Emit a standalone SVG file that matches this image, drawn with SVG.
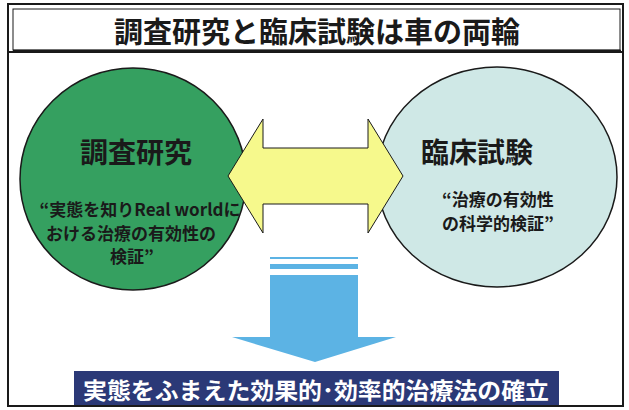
<svg xmlns="http://www.w3.org/2000/svg" width="629" height="410" viewBox="0 0 629 410">
<style>
.frame{fill:none;stroke:#1a1a1a}
.jp{font-family:"Noto Sans CJK JP","Noto Sans",sans-serif;font-weight:700}
.ttl{font-size:29px;fill:#1a1a1a}
.head{font-size:28px;fill:#1a1a1a}
.sub{font-size:17px;fill:#1a1a1a}
.res{font-size:23px;fill:#ffffff}
</style>
<rect width="629" height="410" fill="#ffffff"/>
<g id="frame">
<rect class="frame" x="8" y="4" width="615" height="402" stroke-width="2"/>
</g>
<g id="title">
<rect class="frame" x="8" y="4" width="615" height="48" stroke-width="2"/>
<rect class="frame" x="13" y="9" width="607" height="41" stroke-width="1"/>
<line x1="13" y1="51" x2="621" y2="51" stroke="#1a1a1a" stroke-width="2.5"/>
<text class="jp ttl" x="317" y="43" text-anchor="middle">調査研究と臨床試験は車の両輪</text>
</g>
<g id="survey">
<ellipse cx="133" cy="179" rx="113" ry="111" fill="#35a060" stroke="#1a1a1a" stroke-width="1.5"/>
<text class="jp head" x="136" y="163" text-anchor="middle">調査研究</text>
<text class="jp sub" x="140" y="216" text-anchor="middle">“実態を知りReal worldに</text>
<text class="jp sub" x="131" y="240" text-anchor="middle">おける治療の有効性の</text>
<text class="jp sub" x="132" y="263" text-anchor="middle">検証”</text>
</g>
<g id="clinical">
<ellipse cx="497" cy="177" rx="120" ry="110" fill="#cfe8e6" stroke="#1a1a1a" stroke-width="1.5"/>
<text class="jp head" x="477" y="163" text-anchor="middle">臨床試験</text>
<text class="jp sub" x="498" y="206" text-anchor="middle">“治療の有効性</text>
<text class="jp sub" x="498" y="230" text-anchor="middle">の科学的検証”</text>
</g>
<g id="connectors">
<polygon points="228,176 263,119 263,148 368,148 368,119 403,176 368,233 368,204 263,204 263,233" fill="#f6f98c" stroke="#1a1a1a" stroke-width="1"/>
<rect x="270" y="257" width="88" height="2" fill="#5cb3e4"/>
<rect x="270" y="264" width="88" height="5" fill="#5cb3e4"/>
<polygon points="270,275 358,275 358,337 396,337 315,362 232,337 270,337" fill="#5cb3e4"/>
</g>
<g id="result">
<rect x="74" y="371" width="485" height="34" fill="#2b3977"/>
<text class="jp res" x="316" y="399" text-anchor="middle" textLength="466" lengthAdjust="spacingAndGlyphs">実態をふまえた効果的･効率的治療法の確立</text>
</g>
</svg>
